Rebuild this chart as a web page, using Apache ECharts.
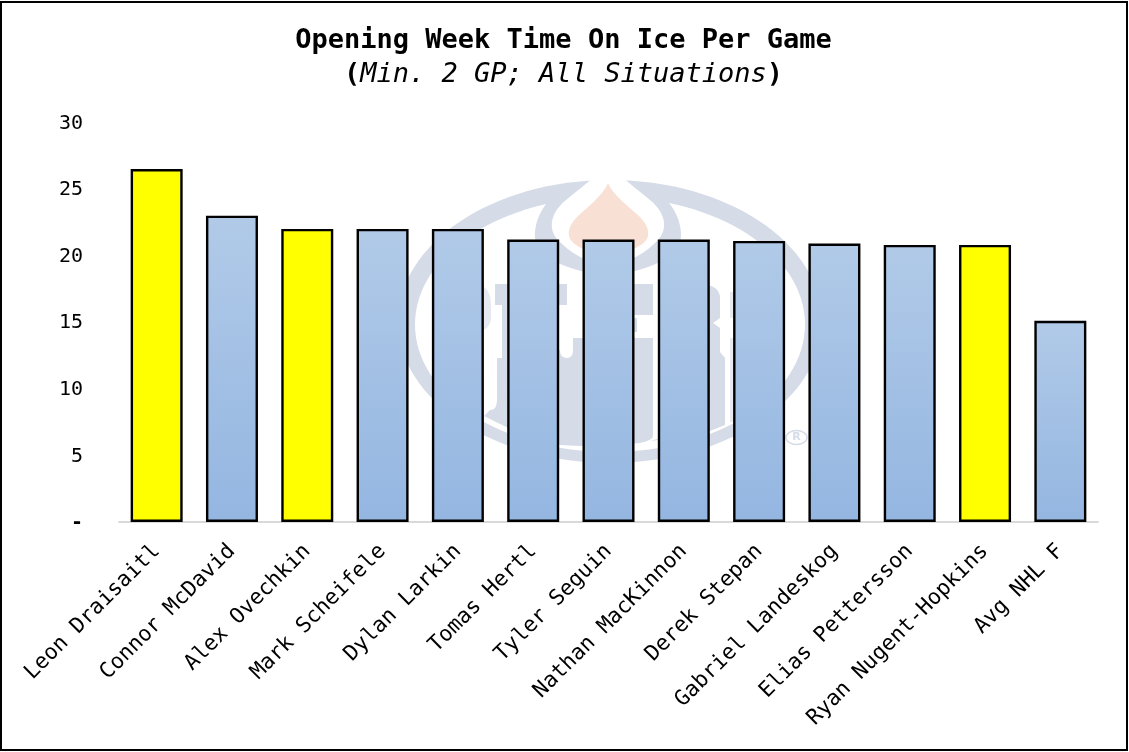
<!DOCTYPE html>
<html><head><meta charset="utf-8">
<style>html,body{margin:0;padding:0;background:#fff}#c{width:1129px;height:752px}</style>
<script src="https://cdn.jsdelivr.net/npm/echarts@6/dist/echarts.min.js"></script>
</head><body><div id="c"></div>
<script>
const categories = ["Leon Draisaitl","Connor McDavid","Alex Ovechkin","Mark Scheifele","Dylan Larkin","Tomas Hertl","Tyler Seguin","Nathan MacKinnon","Derek Stepan","Gabriel Landeskog","Elias Pettersson","Ryan Nugent-Hopkins","Avg NHL F"];
const toiPerGame = [26.5,23.0,22.0,22.0,22.0,21.2,21.2,21.2,21.1,20.9,20.8,20.8,15.1];
const highlighted = ["Leon Draisaitl","Alex Ovechkin","Ryan Nugent-Hopkins"];
const FONT = '"DejaVu Sans Mono", monospace';
const GREY = '#d5dbe7', PALE = '#e6e9f0', PEACH = '#f9e0d4';
const blueFill = new echarts.graphic.LinearGradient(0,0,0,1,[{offset:0,color:'#b1cae8'},{offset:1,color:'#94b6e1'}]);

function pathEl(name, d, fill){
  echarts.graphic.registerShape(name, echarts.graphic.extendPath(d, {}));
  return {type:name, z:-5, style:{fill:fill}};
}
const watermark = [
  {type:'ellipse',z:-5,shape:{cx:610,cy:321.5,rx:212,ry:141.5},style:{fill:GREY}},
  {type:'ellipse',z:-5,shape:{cx:610,cy:324.5,rx:195,ry:127.5},style:{fill:'#fff'}},
  pathEl('wmHalo','M553 197 C 535 212 530 240 540 250 C 555 266 585 274 608 274 C 631 274 661 266 676 250 C 686 240 681 212 663 197 Z',GREY),
  pathEl('wmGap','M593 178 L 623 178 L 650 200 C 668 215 668 232 655 243 C 640 258 620 265 608 265 C 596 265 576 258 561 243 C 548 232 548 215 566 200 Z','#fff'),
  pathEl('wmFlame','M608 183 C 603 195 590 205 578 216 C 570 224 568 230 569 236 C 571 246 590 254 608 254 C 626 254 646 246 648 236 C 649 230 647 224 639 216 C 627 205 613 195 608 183 Z',PEACH),
  pathEl('wmBodyLeft','M497 358 L 502 358 L 502 305 L 495 305 L 495 284 L 567 284 L 567 305 L 545 305 L 545 350 L 560 350 Q 560 358 567 358 Q 573 358 573 350 L 573 338 L 653 338 L 653 436 Q 653 440 640 443 Q 600 448 560 445 Q 530 440 484 416 L 490 410 Q 497 410 497 400 Z',GREY),
  {type:'rect',z:-5,shape:{x:620,y:284,width:33,height:31},style:{fill:GREY}},
  {type:'rect',z:-5,shape:{x:634,y:318,width:3,height:14},style:{fill:GREY}},
  pathEl('wmBodyRight','M650 441 L 700 435 L 725 425 L 725 358 L 720 352 L 720 328 L 713 323 L 720 318 L 720 296 Q 718 287 708 285 L 690 285 L 690 430 Z',GREY),
  pathEl('wmLetterO','M484 287 Q 491 292 491 305 L 491 320 Q 490 326 484 330 Z',PALE),
  {type:'rect',z:-5,shape:{x:730,y:292,width:3,height:26},style:{fill:PALE}},
  {type:'rect',z:-5,shape:{x:730,y:338,width:3,height:84},style:{fill:PALE}},
  {type:'ellipse',z:-5,shape:{cx:796.5,cy:437.5,rx:10.5,ry:7},style:{fill:'none',stroke:GREY,lineWidth:1.5}},
  {type:'text',z:-5,style:{text:'R',x:796.5,y:437.5,align:'center',verticalAlign:'middle',fill:GREY,font:'bold 11px "DejaVu Sans"'}}
];

const chart = echarts.init(document.getElementById('c'));
chart.setOption({
  animation:false,
  backgroundColor:'#fff',
  title:{
    top:18, left:558.5, textAlign:'center',
    text:'Opening Week Time On Ice Per Game\n{p|(}{i|Min. 2 GP; All Situations}{p|)}',
    textStyle:{fontFamily:FONT,fontSize:27,fontWeight:'bold',color:'#000',lineHeight:36,
      rich:{p:{fontFamily:FONT,fontSize:27,fontWeight:'bold',color:'#000',lineHeight:32},
            i:{fontFamily:FONT,fontSize:27,fontStyle:'italic',fontWeight:'normal',color:'#000',lineHeight:32}}}
  },
  graphic:[
    {type:'rect',z:-6,shape:{x:1,y:2,width:1126,height:748},style:{fill:'#fff',stroke:'#000',lineWidth:2}},
    ...watermark
  ],
  grid:{left:119,right:31,top:122.4,bottom:230,containLabel:false},
  xAxis:{type:'category',data:categories,
    axisLine:{lineStyle:{color:'#d9d9d9',width:2}},axisTick:{show:false},
    axisLabel:{interval:0,rotate:45,margin:26,fontFamily:FONT,fontSize:21.5,color:'#000'}},
  yAxis:{type:'value',min:0,max:30,interval:5,
    axisLine:{show:false},axisTick:{show:false},splitLine:{show:false},
    axisLabel:{margin:36,padding:[2,0,0,0],fontFamily:FONT,fontSize:20,color:'#000',
      formatter:v=>v===0?'{d|-}':String(v),
      rich:{d:{fontFamily:FONT,fontSize:20,fontWeight:'bold',color:'#000'}}}},
  series:[{type:'bar',barWidth:52,
    data:categories.map((n,i)=>({value:toiPerGame[i],
      itemStyle:{color:highlighted.includes(n)?'#ffff00':blueFill}})),
    itemStyle:{borderColor:'#000',borderWidth:2.4}}]
});
</script></body></html>
